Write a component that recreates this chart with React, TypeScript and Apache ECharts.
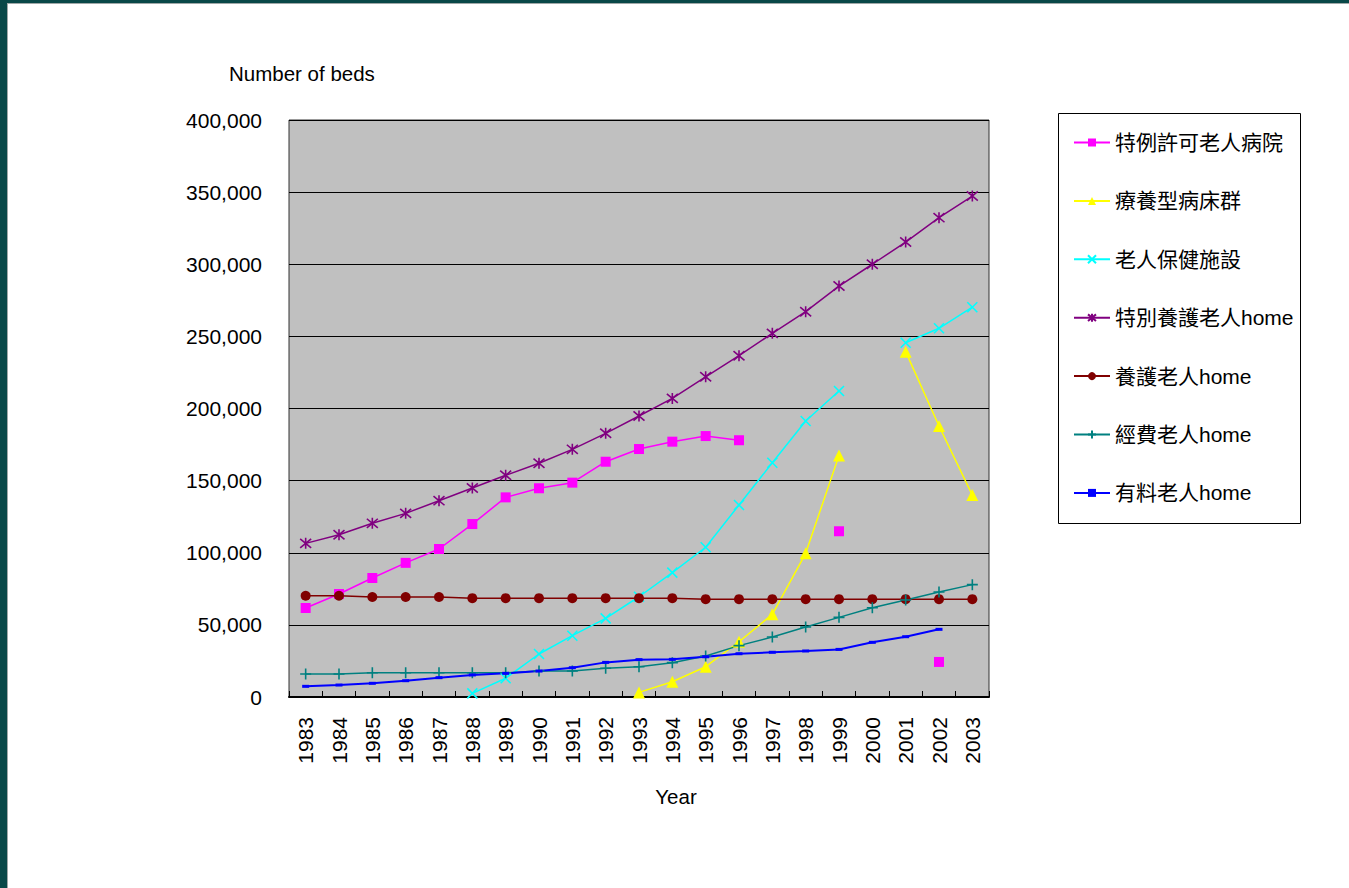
import React, { useEffect, useRef } from "react";
import * as echarts from "echarts";

const years = ["1983","1984","1985","1986","1987","1988","1989","1990","1991","1992","1993","1994","1995","1996","1997","1998","1999","2000","2001","2002","2003"];

const seriesNames = ["特例許可老人病院","療養型病床群","老人保健施設","特別養護老人home","養護老人home","經費老人home","有料老人home"];

const tokureiHospital = [61700, 71400, 82500, 93000, 102600, 119900, 138400, 144700, 148600, 163100, 171900, 177000, 180900, 178000, null, null, 114900, null, null, 24300, null];
const ryoyoBeds = [null, null, null, null, null, null, null, null, null, null, 3200, 10600, 21000, 38300, 57300, 99600, 167500, null, 239400, 187900, 140000];
const rojinHoken = [null, null, null, null, null, 2500, 13000, 29800, 42500, 54500, 69500, 86200, 103800, 133100, 162400, 191300, 212100, null, 245600, 255600, 270200];
const tokubetsuHome = [106500, 112500, 120400, 127300, 136100, 144900, 153700, 162000, 171700, 182800, 194800, 207000, 222000, 236600, 252100, 267100, 284900, 300000, 315400, 332300, 347300];
const yogoHome = [70200, 70200, 69300, 69300, 69300, 68500, 68500, 68500, 68500, 68500, 68500, 68500, 67800, 67800, 67800, 67800, 67800, 67800, 67800, 67800, 67800];
const keihiHome = [15900, 15900, 16800, 16800, 16800, 16800, 16800, 18000, 18000, 19900, 21000, 23800, 28400, 35600, 41600, 48500, 55200, 61900, 67200, 72800, 77900];
const yuryoHome = [7400, 8300, 9500, 11300, 13400, 15300, 16400, 18000, 20300, 24000, 25900, 26100, 27900, 30000, 31000, 31900, 33000, 37900, 41800, 46900, null];

const yTicks = [0, 50000, 100000, 150000, 200000, 250000, 300000, 350000, 400000];

const FONT = "'Liberation Sans', Arial, 'Noto Sans CJK TC', sans-serif";

export default function App() {
  const ref = useRef<HTMLDivElement>(null);

  useEffect(() => {
    if (!ref.current) return;
    const chart = echarts.init(ref.current, undefined, { renderer: "svg" });

    const mk = (
      name: string,
      data: (number | null)[],
      color: string,
      symbol: string,
      symbolSize: number | number[],
      stroke: boolean,
      width = 1.5
    ) => ({
      name,
      type: "line",
      data,
      connectNulls: false,
      showAllSymbol: true,
      symbol,
      symbolSize,
      lineStyle: { color, width },
      itemStyle: stroke
        ? { color, borderColor: color, borderWidth: 1.6 }
        : { color, borderWidth: 0 },
      emphasis: { disabled: true },
    });

    const crossX = "path://M0,0L10,10M10,0L0,10";
    const asterisk = "path://M0,0L10,10M10,0L0,10M5,-1L5,11";
    const plus = "path://M5,0L5,10M0,5L10,5";

    const option: any = {
      animation: false,
      textStyle: { fontFamily: FONT },
      grid: {
        left: 289,
        top: 120,
        width: 700,
        height: 577,
        show: true,
        backgroundColor: "#C0C0C0",
        borderColor: "#333",
        borderWidth: 1,
      },
      xAxis: {
        type: "category",
        data: years,
        boundaryGap: true,
        axisLine: { show: true, lineStyle: { color: "#000", width: 2 } },
        axisTick: { show: true, inside: true, length: 6, lineStyle: { color: "#000" } },
        axisLabel: { rotate: 90, margin: 20, fontSize: 21, color: "#000", fontFamily: FONT },
        splitLine: { show: false },
      },
      yAxis: {
        type: "value",
        min: yTicks[0],
        max: yTicks[yTicks.length - 1],
        interval: yTicks[1] - yTicks[0],
        axisLine: { show: false },
        axisTick: { show: false },
        axisLabel: {
          margin: 27,
          fontSize: 21,
          color: "#000",
          fontFamily: FONT,
          formatter: (v: number) => v.toLocaleString("en-US"),
        },
        splitLine: { show: true, lineStyle: { color: "#000", width: 1 } },
      },
      legend: {
        orient: "vertical",
        left: 1068,
        top: 127,
        itemWidth: 36,
        itemHeight: 10,
        itemGap: 37.4,
        textStyle: { fontSize: 21, color: "#000", fontFamily: FONT },
        data: seriesNames,
      },
      graphic: [
        { type: "rect", shape: { x: 0, y: 0, width: 1349, height: 3 }, style: { fill: "#094848" }, z: 100 },
        { type: "rect", shape: { x: 0, y: 3, width: 1349, height: 1 }, style: { fill: "#a0a8a8" }, z: 100 },
        { type: "rect", shape: { x: 0, y: 0, width: 7, height: 888 }, style: { fill: "#094848" }, z: 100 },
        { type: "rect", shape: { x: 7, y: 3, width: 1, height: 885 }, style: { fill: "#a0a8a8" }, z: 100 },
        {
          type: "rect",
          shape: { x: 1058.5, y: 113.5, width: 242, height: 410 },
          style: { fill: "#fff", stroke: "#000", lineWidth: 1 },
          z: -1,
        },
        {
          type: "text",
          x: 229,
          y: 73,
          style: { text: "Number of beds", fontSize: 20.5, fill: "#000", font: `20.5px ${FONT}`, textVerticalAlign: "middle", verticalAlign: "middle" },
        },
        {
          type: "text",
          x: 676,
          y: 796,
          style: { text: "Year", fontSize: 20.5, fill: "#000", font: `20.5px ${FONT}`, align: "center", verticalAlign: "middle" },
        },
      ],
      series: [
        mk(seriesNames[0], tokureiHospital, "#FF00FF", "rect", 10, false),
        mk(seriesNames[1], ryoyoBeds, "#FFFF00", "triangle", 12, false),
        mk(seriesNames[2], rojinHoken, "#00FFFF", crossX, 10, true),
        mk(seriesNames[3], tokubetsuHome, "#800080", asterisk, 11, true),
        mk(seriesNames[4], yogoHome, "#800000", "circle", 10, false),
        mk(seriesNames[5], keihiHome, "#008080", plus, 11, true),
        mk(seriesNames[6], yuryoHome, "#0000FF", "rect", [7, 3], false, 2),
      ],
    };

    chart.setOption(option);
    return () => chart.dispose();
  }, []);

  return (
    <div
      ref={ref}
      style={{ position: "absolute", left: 0, top: 0, width: 1349, height: 888, background: "#fff" }}
    />
  );
}
